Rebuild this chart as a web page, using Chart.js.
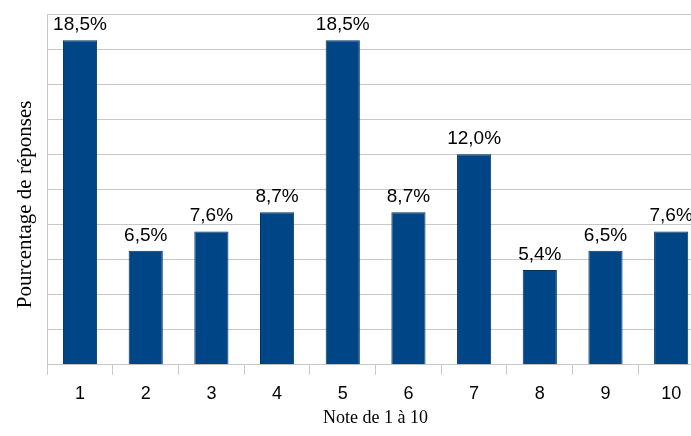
<!DOCTYPE html>
<html>
<head>
<meta charset="utf-8">
<script src="https://cdn.jsdelivr.net/npm/chart.js@4/dist/chart.umd.min.js"></script>
<style>
  html, body { margin: 0; padding: 0; background: #fff; overflow: hidden; }
  #wrap { width: 706px; height: 436px; }
</style>
</head>
<body>
<div id="wrap"><canvas id="noteChart" width="706" height="436"></canvas></div>
<script>
const categories = ["1", "2", "3", "4", "5", "6", "7", "8", "9", "10"];
const percentages = [18.5, 6.5, 7.6, 8.7, 18.5, 8.7, 12.0, 5.4, 6.5, 7.6];
const yTitle = 'Pourcentage de réponses';

// étiquettes au-dessus des barres, format français
const barLabels = {
    id: 'barLabels',
    afterDatasetsDraw(chart) {
        const ctx = chart.ctx;
        const meta = chart.getDatasetMeta(0);
        ctx.save();
        ctx.font = '19px "Liberation Sans", Arial, sans-serif';
        ctx.fillStyle = '#000';
        ctx.textAlign = 'center';
        ctx.textBaseline = 'alphabetic';
        meta.data.forEach((bar, i) => {
            const txt = percentages[i].toFixed(1).replace('.', ',') + '%';
            ctx.fillText(txt, bar.x, bar.y - 10);
        });
        ctx.restore();
    }
};

// titre de l'axe Y un peu plus bas que le centre
const yTitleDraw = {
    id: 'yTitleDraw',
    afterDraw(chart) {
        const ctx = chart.ctx;
        const y = chart.scales.y;
        ctx.save();
        ctx.font = '21px "Liberation Serif", "Times New Roman", serif';
        ctx.fillStyle = '#000';
        ctx.textAlign = 'center';
        ctx.textBaseline = 'middle';
        ctx.translate(y.left + 13, (y.top + y.bottom) / 2 + 15);
        ctx.rotate(-Math.PI / 2);
        ctx.fillText(yTitle, 0, 0);
        ctx.restore();
    }
};

const ctx = document.getElementById("noteChart").getContext("2d");
const chart = new Chart(ctx, {
    type: 'bar',
    data: {
        labels: categories,
        datasets: [{
            data: percentages,
            backgroundColor: '#004586',
            borderColor: '#00335f',
            borderWidth: 1,
            categoryPercentage: 1,
            barPercentage: 0.52
        }]
    },
    options: {
        responsive: false,
        animation: false,
        layout: { padding: { top: 14, left: 12, right: 2, bottom: 7 } },
        plugins: {
            legend: { display: false },
            tooltip: { enabled: false }
        },
        scales: {
            x: {
                offset: true,
                grid: {
                    offset: true,
                    drawOnChartArea: false,
                    color: '#c8c8c8',
                    tickLength: 10
                },
                border: { color: '#c8c8c8' },
                ticks: {
                    color: '#000',
                    padding: 8,
                    font: { family: '"Liberation Sans", Arial, sans-serif', size: 18 }
                },
                title: {
                    display: true,
                    text: 'Note de 1 à 10',
                    color: '#000',
                    padding: { top: -5, bottom: 0 },
                    font: { family: '"Liberation Serif", "Times New Roman", serif', size: 18 }
                }
            },
            y: {
                min: 0,
                max: 20,
                ticks: { stepSize: 2, display: false },
                grid: { color: '#c8c8c8', drawTicks: false },
                border: { color: '#c8c8c8' },
                title: {
                    display: true,
                    text: yTitle,
                    color: 'rgba(0,0,0,0)',
                    padding: { top: 0, bottom: 10 },
                    font: { family: '"Liberation Serif", "Times New Roman", serif', size: 21 }
                }
            }
        }
    },
    plugins: [barLabels, yTitleDraw]
});
</script>
</body>
</html>
